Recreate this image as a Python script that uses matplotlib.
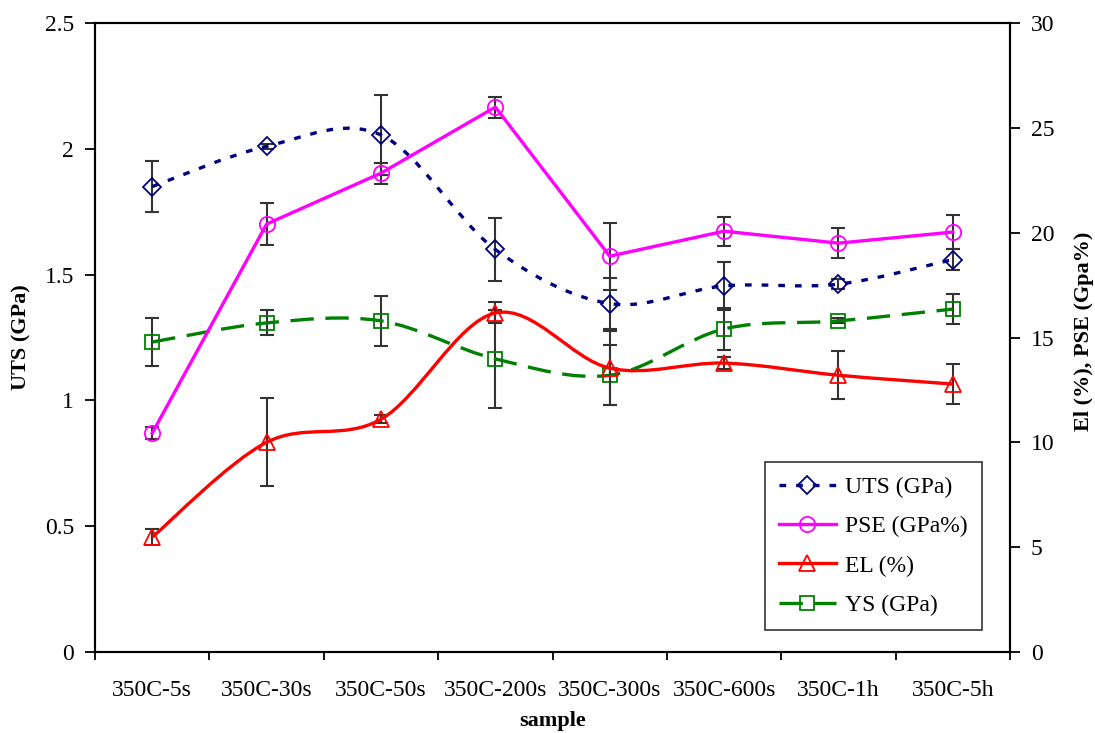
import numpy as np
import matplotlib
matplotlib.use('Agg')
import matplotlib.pyplot as plt
from matplotlib.path import Path
from matplotlib.patches import PathPatch
from matplotlib.lines import Line2D

plt.rcParams['font.family'] = ['Liberation Serif', 'DejaVu Serif']

samples = ['350C-5s', '350C-30s', '350C-50s', '350C-200s',
           '350C-300s', '350C-600s', '350C-1h', '350C-5h']

# left axis (GPa)
uts = [1.85, 2.01, 2.055, 1.60, 1.385, 1.455, 1.462, 1.56]
uts_err = [0.10, 0.01, 0.16, 0.125, 0.10, 0.095, 0.02, 0.04]
ys = [1.232, 1.308, 1.316, 1.165, 1.10, 1.284, 1.316, 1.363]
ys_err = [0.097, 0.05, 0.10, 0.195, 0.12, 0.084, 0.01, 0.06]

# right axis (%)
pse = [10.44, 20.41, 22.84, 25.99, 18.88, 20.07, 19.5, 20.03]
pse_err = [0.3, 1.0, 0.5, 0.5, 1.6, 0.7, 0.7, 0.8]
el = [5.48, 10.0, 11.1, 16.17, 13.54, 13.78, 13.2, 12.78]
el_err = [0.4, 2.1, 0.2, 0.5, 1.76, 0.3, 1.15, 0.95]


def smooth_path(x, y):
    # Excel-like smoothed line: cubic Bezier through points
    pts = np.column_stack([x, y]).astype(float)
    n = len(pts)
    verts = [pts[0]]
    codes = [Path.MOVETO]
    for i in range(n - 1):
        p0 = pts[i - 1] if i > 0 else pts[i]
        p1 = pts[i]
        p2 = pts[i + 1]
        p3 = pts[i + 2] if i + 2 < n else pts[i + 1]
        c1 = p1 + (p2 - p0) / 6.0
        c2 = p2 - (p3 - p1) / 6.0
        verts += [c1, c2, p2]
        codes += [Path.CURVE4] * 3
    return Path(verts, codes)


x = np.arange(len(samples))

fig = plt.figure(figsize=(10.95, 7.33), dpi=100)
ax = fig.add_axes([0.0868, 0.1105, 0.8356, 0.8581])
ax2 = ax.twinx()

err_kw = dict(fmt='none', ecolor='#333333', elinewidth=1.5, capsize=5, capthick=1.5)
lw = 2.4

# UTS
ax.errorbar(x, uts, yerr=uts_err, zorder=2, **err_kw)
ax.add_patch(PathPatch(smooth_path(x, uts), fill=False, edgecolor='#000080',
                       lw=lw, linestyle=(0, (2, 3)), zorder=3))
ax.plot(x, uts, linestyle='none', marker='D', markersize=9,
        markerfacecolor='none', markeredgecolor='#000080', mew=1.3, zorder=4)

# YS
ax.errorbar(x, ys, yerr=ys_err, zorder=2, **err_kw)
ax.add_patch(PathPatch(smooth_path(x, ys), fill=False, edgecolor='#008000',
                       lw=lw, linestyle=(0, (7, 3.5)), zorder=3))
ax.plot(x, ys, linestyle='none', marker='s', markersize=10.5,
        markerfacecolor='none', markeredgecolor='#008000', mew=1.3, zorder=4)

# PSE
ax2.errorbar(x, pse, yerr=pse_err, zorder=2, **err_kw)
ax2.plot(x, pse, color='#FF00FF', lw=lw, marker='o', markersize=11,
         markerfacecolor='none', markeredgecolor='#FF00FF', mew=1.3, zorder=4)

# EL
ax2.errorbar(x, el, yerr=el_err, zorder=2, **err_kw)
ax2.add_patch(PathPatch(smooth_path(x, el), fill=False, edgecolor='#FF0000',
                        lw=lw, zorder=3))
ax2.plot(x, el, linestyle='none', marker='^', markersize=11,
         markerfacecolor='none', markeredgecolor='#FF0000', mew=1.3, zorder=4)

ax.set_xlim(-0.5, len(samples) - 0.5)
ax.set_ylim(0, 2.5)
ax2.set_ylim(0, 30)
ax.set_yticks(np.arange(0, 2.51, 0.5))
ax.set_yticklabels(['0', '0.5', '1', '1.5', '2', '2.5'])
ax2.set_yticks(np.arange(0, 31, 5))

ax.set_xticks(np.arange(-0.5, len(samples), 1.0))
ax.set_xticklabels([])
ax.set_xticks(x, minor=True)
ax.set_xticklabels(samples, minor=True)
ax.tick_params(axis='x', which='minor', length=0, pad=20, labelsize=17)
ax.tick_params(axis='x', which='major', length=6, width=1.3, direction='out')
ax.tick_params(axis='y', length=7, width=1.3, direction='out', labelsize=17, pad=8)
ax2.tick_params(axis='y', length=7, width=1.3, direction='out', labelsize=17, pad=8)

for a in (ax, ax2):
    for s in a.spines.values():
        s.set_linewidth(1.5)

ax.set_xlabel('sample', fontsize=16, fontweight='bold', va='center')
ax.xaxis.set_label_coords(0.5, -0.11)
ax.set_ylabel('UTS (GPa)', fontsize=16, fontweight='bold', va='center')
ax.yaxis.set_label_coords(-0.08, 0.5)
ax2.set_ylabel('El (%), PSE (Gpa%)', fontsize=16, fontweight='bold', va='center')
ax2.yaxis.set_label_coords(1.081, 0.51)

handles = [
    Line2D([], [], color='#000080', lw=lw, linestyle=(0, (2, 3)), marker='D',
           markersize=9, markerfacecolor='none', mew=1.3),
    Line2D([], [], color='#FF00FF', lw=lw, marker='o', markersize=11,
           markerfacecolor='none', mew=1.3),
    Line2D([], [], color='#FF0000', lw=lw, marker='^', markersize=11,
           markerfacecolor='none', mew=1.3),
    Line2D([], [], color='#008000', lw=lw, linestyle=(0, (7, 3.5)), marker='s',
           markersize=10.5, markerfacecolor='none', mew=1.3),
]
labels = ['UTS (GPa)', 'PSE (GPa%)', 'EL (%)', 'YS (GPa)']
leg = ax2.legend(handles, labels, loc='lower left', bbox_to_anchor=(0.732, 0.035),
                 fontsize=17, frameon=True, fancybox=False, edgecolor='black',
                 handlelength=2.4, handletextpad=0.4, labelspacing=0.75,
                 borderpad=0.6, borderaxespad=0)
leg.get_frame().set_linewidth(1.2)

fig.savefig('out.png', dpi=100)
